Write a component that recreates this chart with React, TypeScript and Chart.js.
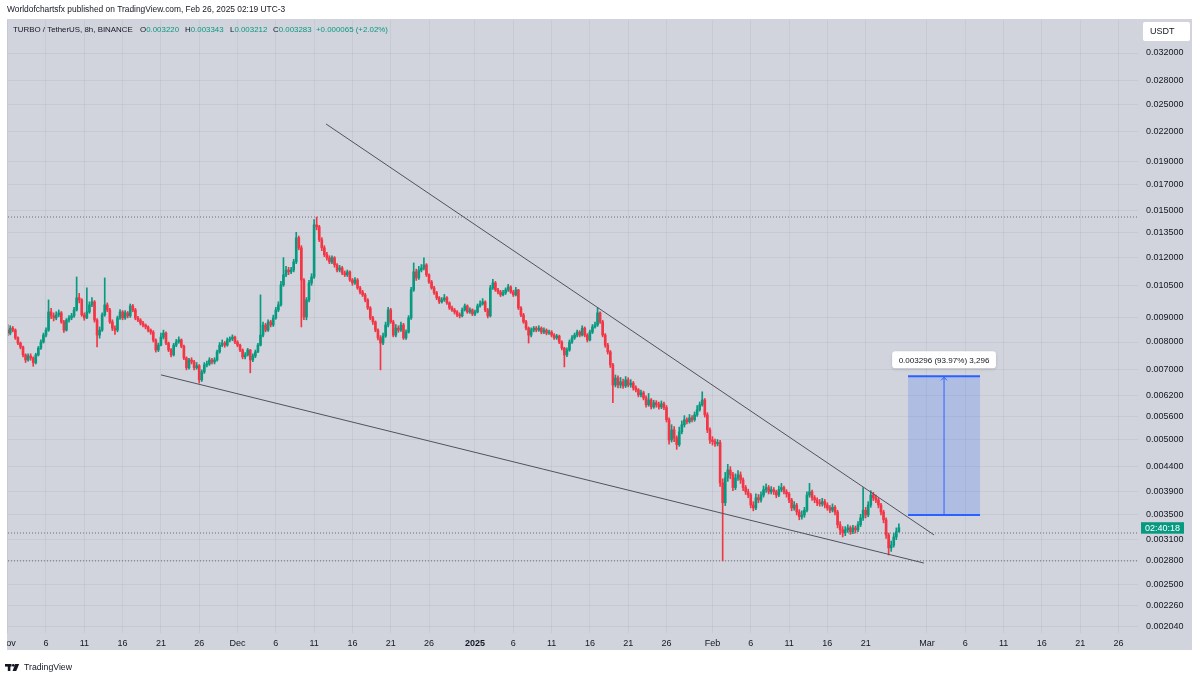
import React, { useEffect, useRef } from "react";
import { Chart, registerables } from "chart.js";

Chart.register(...registerables);

// ---- DATA (prices in millionths of USDT; one candle = 8h, x in days since Nov 1) ----
const FIRST_OPEN = 8470;

const closes = [
  8350, 8550, 8470, 8160, 7960, 7810, 7520, 7340, 7480, 7410, 7240, 7520,
  7770, 8000, 8270, 8470, 9240, 9070, 8980, 9110, 9200, 8810, 8470, 8890,
  8980, 9070, 9330, 9890, 9790, 9110, 8980, 9240, 9560, 9700, 8890, 8270,
  8470, 9110, 9560, 9330, 8810, 8550, 8470, 8980, 9240, 8980, 9200, 9070,
  9510, 9330, 8980, 8890, 8760, 8680, 8600, 8470, 8390, 8080, 7700, 7880,
  8190, 8350, 7960, 7700, 7520, 7880, 8000, 8080, 7840, 7410, 7070, 7340,
  7270, 7070, 7140, 6670, 6930, 7170, 7200, 7340, 7270, 7340, 7630, 7880,
  7960, 7880, 8080, 8120, 8190, 8000, 7880, 7700, 7450, 7520, 7700, 7340,
  7480, 7630, 7880, 8270, 8680, 8470, 8810, 8680, 8980, 9330, 9560, 10520,
  11040, 11300, 11200, 11300, 11750, 13190, 12570, 10770, 9020, 9790, 10620, 10930,
  14030, 13900, 13060, 12570, 12160, 11980, 11750, 11980, 11580, 11300, 11410, 11140,
  11040, 11200, 10770, 10620, 10770, 10370, 10170, 10030, 9790, 9420, 8980, 8810,
  8470, 8160, 7960, 8230, 8680, 9330, 8810, 8270, 8550, 8470, 8680, 8160,
  8390, 8980, 10270, 11200, 10880, 11300, 11410, 11580, 11040, 10670, 10370, 10130,
  9890, 9700, 9790, 9890, 9650, 9420, 9330, 9240, 9110, 9070, 9330, 9510,
  9240, 9330, 9150, 9240, 9510, 9600, 9700, 9330, 9070, 10370, 10620, 10270,
  10170, 10030, 10130, 10270, 10420, 10170, 10030, 10270, 9420, 9110, 8810, 8550,
  8270, 8470, 8550, 8470, 8550, 8390, 8470, 8350, 8390, 8270, 8160, 8230,
  8000, 7770, 7520, 7700, 8000, 8160, 8270, 8390, 8270, 8550, 8270, 8080,
  8390, 8600, 8680, 9200, 8810, 8270, 7880, 7630, 7170, 6510, 6730, 6510,
  6610, 6480, 6670, 6510, 6570, 6420, 6360, 6210, 6270, 6120, 5920, 6060,
  5860, 5980, 5920, 5860, 5950, 5840, 5510, 5000, 5250, 5050, 4890, 5200,
  5380, 5510, 5460, 5560, 5510, 5640, 5780, 5920, 6060, 5640, 5250, 5000,
  4960, 4910, 4940, 4070, 3700, 4170, 4330, 4230, 3980, 4170, 4230, 4130,
  3980, 3900, 3840, 3660, 3610, 3790, 3750, 3840, 3940, 3980, 3900, 3940,
  3900, 3840, 3940, 3980, 3900, 3860, 3750, 3610, 3660, 3540, 3460, 3490,
  3570, 3840, 3900, 3790, 3750, 3700, 3680, 3720, 3660, 3610, 3570, 3620,
  3540, 3330, 3250, 3200, 3250, 3280, 3220, 3280, 3250, 3330, 3440, 3570,
  3490, 3660, 3840, 3790, 3750, 3660, 3540, 3410, 3170, 2980, 3020, 3140,
  3220, 3283,
];

const highs = [
  8700, 8650, 8620, 8520, 8200, 8000, 7850, 7560, 7560, 7560, 7450, 7580,
  7830, 8080, 8350, 8560, 9790, 9400, 9200, 9250, 9330, 9260, 8880, 8950,
  9080, 9180, 9450, 10930, 10100, 9850, 9200, 10370, 9700, 9900, 9760, 8950,
  8600, 9200, 10880, 9650, 9400, 8900, 8650, 9060, 9350, 9300, 9300, 9260,
  9600, 9580, 9400, 9050, 8950, 8830, 8720, 8650, 8520, 8450, 8120, 7960,
  8350, 8470, 8400, 8000, 7750, 7950, 8100, 8200, 8120, 7880, 7450, 7400,
  7420, 7330, 7250, 7180, 7000, 7250, 7300, 7420, 7400, 7420, 7700, 7980,
  8080, 8020, 8160, 8200, 8280, 8230, 8050, 7920, 7740, 7600, 7760, 7720,
  7560, 7700, 7950, 10030, 8800, 8750, 8900, 8880, 9100, 9450, 9700, 10700,
  11990, 11500, 11450, 11450, 11900, 13540, 13300, 12700, 10850, 9900, 10750, 11100,
  14400, 14570, 14000, 13200, 12700, 12300, 12100, 12100, 12050, 11650, 11550, 11500,
  11250, 11300, 11250, 10850, 10900, 10850, 10450, 10250, 10100, 9850, 9480, 9050,
  8850, 8520, 8250, 8350, 8800, 9450, 9400, 8880, 8700, 8650, 8800, 8750,
  8480, 9080, 10400, 11690, 11350, 11500, 11600, 11980, 11650, 11100, 10750, 10450,
  10200, 9950, 9900, 10050, 9950, 9700, 9500, 9400, 9300, 9200, 9420, 9600,
  9560, 9420, 9380, 9320, 9600, 9750, 9850, 9750, 9400, 10500, 10800, 10700,
  10350, 10250, 10250, 10370, 10550, 10480, 10250, 10400, 10300, 9480, 9180, 8880,
  8600, 8560, 8620, 8620, 8650, 8600, 8560, 8520, 8470, 8450, 8330, 8300,
  8270, 8050, 7800, 7780, 8080, 8250, 8350, 8470, 8450, 8650, 8600, 8330,
  8470, 8700, 8800, 9420, 9250, 8880, 8330, 7950, 7680, 7220, 6830, 6800,
  6750, 6700, 6780, 6740, 6680, 6620, 6480, 6400, 6350, 6320, 6180, 6250,
  6100, 6050, 6040, 6000, 6030, 6000, 5900, 5560, 5380, 5330, 5100, 5320,
  5480, 5620, 5560, 5650, 5620, 5720, 5900, 6000, 6300, 6100, 5700, 5300,
  5080, 5020, 5010, 4990, 4150, 4280, 4450, 4400, 4280, 4250, 4320, 4290,
  4170, 4020, 3950, 3870, 3720, 3860, 3850, 3900, 4010, 4050, 4020, 4000,
  3980, 3930, 4010, 4060, 4010, 3940, 3890, 3780, 3720, 3690, 3580, 3560,
  3620, 3900, 4060, 3930, 3830, 3790, 3760, 3780, 3760, 3700, 3650, 3680,
  3650, 3570, 3380, 3300, 3300, 3330, 3310, 3320, 3310, 3380, 3500, 3980,
  3620, 3720, 3920, 3890, 3840, 3780, 3690, 3570, 3440, 3200, 3080, 3200,
  3280, 3343,
];

const lows = [
  8250, 8280, 8400, 8100, 7900, 7740, 7450, 7250, 7300, 7330, 7120, 7200,
  7480, 7720, 7960, 8200, 8420, 8950, 8850, 8900, 9030, 8750, 8380, 8430,
  8800, 8900, 9000, 9280, 9650, 9050, 8880, 8950, 9180, 9480, 8800, 7810,
  8150, 8420, 9050, 9250, 8750, 8450, 8300, 8400, 8920, 8900, 8920, 8980,
  9000, 9250, 8900, 8820, 8680, 8600, 8520, 8400, 8300, 8000, 7620, 7640,
  7850, 8120, 7900, 7640, 7450, 7480, 7820, 7950, 7780, 7350, 7000, 7020,
  7200, 7000, 7020, 6570, 6620, 6880, 7100, 7150, 7200, 7200, 7300, 7580,
  7820, 7800, 7840, 8000, 8050, 7940, 7820, 7640, 7380, 7380, 7480, 6900,
  7280, 7420, 7600, 7850, 8200, 8400, 8420, 8600, 8620, 8920, 9250, 9500,
  10450, 10950, 11050, 11100, 11200, 11650, 12450, 8600, 8900, 8900, 9700, 10500,
  10850, 13700, 12950, 12400, 12050, 11850, 11650, 11650, 11450, 11200, 11200, 11050,
  10950, 10950, 10700, 10500, 10550, 10300, 10080, 9950, 9700, 9350, 8900, 8700,
  8400, 8080, 7000, 7900, 8180, 8600, 8750, 8200, 8200, 8380, 8420, 8100,
  8100, 8350, 8920, 10200, 10750, 10800, 11200, 11300, 10950, 10600, 10300, 10050,
  9800, 9620, 9640, 9720, 9580, 9350, 9260, 9150, 9030, 8980, 9020, 9280,
  9180, 9180, 9080, 9080, 9200, 9450, 9550, 9250, 8980, 9020, 10300, 10200,
  10080, 9950, 9980, 10050, 10200, 10100, 9950, 9980, 9350, 9030, 8750, 8480,
  7960, 8200, 8400, 8400, 8420, 8320, 8330, 8280, 8300, 8200, 8100, 8100,
  7940, 7700, 7100, 7460, 7650, 7950, 8100, 8200, 8200, 8230, 8200, 8000,
  8040, 8330, 8550, 8620, 8750, 8200, 7800, 7550, 7080, 5980, 6450, 6420,
  6420, 6400, 6430, 6450, 6440, 6350, 6300, 6150, 6150, 6060, 5850, 5880,
  5800, 5820, 5850, 5800, 5810, 5780, 5450, 4900, 4950, 4960, 4780, 4850,
  5150, 5320, 5400, 5420, 5450, 5470, 5600, 5740, 5880, 5580, 5180, 4920,
  4880, 4850, 4860, 4000, 2800, 3650, 4100, 4150, 3920, 3940, 4120, 4060,
  3920, 3850, 3790, 3610, 3560, 3580, 3700, 3710, 3800, 3890, 3860, 3860,
  3850, 3790, 3810, 3900, 3860, 3800, 3700, 3560, 3570, 3490, 3410, 3420,
  3450, 3540, 3800, 3740, 3700, 3650, 3640, 3640, 3610, 3570, 3530, 3540,
  3490, 3280, 3180, 3140, 3160, 3210, 3180, 3190, 3200, 3220, 3300, 3400,
  3440, 3460, 3620, 3740, 3700, 3610, 3490, 3360, 3120, 2880, 2930, 2990,
  3100, 3212,
];

const PRICE_UNIT = 1e-6;
const CANDLES_PER_DAY = 3;

const xTickDays = [0, 5, 10, 15, 20, 25, 30, 35, 40, 45, 50, 55, 61, 66, 71, 76, 81, 86, 92, 97, 102, 107, 112, 120, 125, 130, 135, 140, 145];
const xTickLabels = ["Nov", "6", "11", "16", "21", "26", "Dec", "6", "11", "16", "21", "26", "2025", "6", "11", "16", "21", "26", "Feb", "6", "11", "16", "21", "Mar", "6", "11", "16", "21", "26"];

const yTicks = [0.032, 0.028, 0.025, 0.022, 0.019, 0.017, 0.015, 0.0135, 0.012, 0.0105, 0.009, 0.008, 0.007, 0.0062, 0.0056, 0.005, 0.0044, 0.0039, 0.0035, 0.0031, 0.0028, 0.0025, 0.00226, 0.00204];

const X_MIN = 0.04;
const X_MAX = 147.55;
const Y_MIN = 0.001981;
const Y_MAX = 0.03749;

const upperTrend = [{ x: 41.55, y: 0.02277 }, { x: 120.93, y: 0.003171 }];
const lowerTrend = [{ x: 20.01, y: 0.006833 }, { x: 119.6, y: 0.002771 }];
const levelLines = [0.01457, 0.0032, 0.0028];
const measureX = [117.53, 126.93];
const measureY = [0.00349, 0.006786];
const measureText = "0.003296 (93.97%) 3,296";

const titleText = "Worldofchartsfx published on TradingView.com, Feb 26, 2025 02:19 UTC-3";
const symbolText = "TURBO / TetherUS, 8h, BINANCE";
const ohlcText = [
  ["O", "0.003220"],
  ["H", "0.003343"],
  ["L", "0.003212"],
  ["C", "0.003283"],
];
const changeText = "+0.000065 (+2.02%)";
const countdownText = "02:40:18";

// ---- STYLE ----
const UP = "#089981";
const DOWN = "#f23645";
const PANE = "#d1d4dc";
const GRID = "rgba(42,46,57,0.06)";
const TEXT = "#131722";
const TREND = "#50535e";
const BLUE = "#2962ff";
const FONT = "'Liberation Sans', Arial, sans-serif";

function roundRect(ctx: CanvasRenderingContext2D, x: number, y: number, w: number, h: number, r: number) {
  ctx.beginPath();
  ctx.moveTo(x + r, y);
  ctx.lineTo(x + w - r, y);
  ctx.quadraticCurveTo(x + w, y, x + w, y + r);
  ctx.lineTo(x + w, y + h - r);
  ctx.quadraticCurveTo(x + w, y + h, x + w - r, y + h);
  ctx.lineTo(x + r, y + h);
  ctx.quadraticCurveTo(x, y + h, x, y + h - r);
  ctx.lineTo(x, y + r);
  ctx.quadraticCurveTo(x, y, x + r, y);
  ctx.closePath();
}

function fitSize(ctx: CanvasRenderingContext2D, text: string, width: number, weight = "normal") {
  ctx.font = `${weight} 10px ${FONT}`;
  return (10 * width) / ctx.measureText(text).width;
}

const decorPlugin = {
  id: "decor",
  beforeDraw(chart: any) {
    const ctx = chart.ctx as CanvasRenderingContext2D;
    ctx.save();
    ctx.fillStyle = "#ffffff";
    ctx.fillRect(0, 0, chart.width, chart.height);
    ctx.fillStyle = PANE;
    ctx.fillRect(7, 19, 1185, 631);
    ctx.restore();
  },
  afterDraw(chart: any) {
    const ctx = chart.ctx as CanvasRenderingContext2D;
    const xs = chart.scales.x;
    const ys = chart.scales.y;
    ctx.save();
    // clip the partly hidden first date label at the pane edge
    ctx.fillStyle = "#ffffff";
    ctx.fillRect(0, 630, 7, 22);

    // title
    ctx.textBaseline = "middle";
    ctx.textAlign = "left";
    const ts = fitSize(ctx, titleText, 279);
    ctx.font = `${ts}px ${FONT}`;
    ctx.fillStyle = TEXT;
    ctx.fillText(titleText, 7, 9.5);

    // symbol header
    const hs = fitSize(ctx, symbolText, 120);
    ctx.font = `${hs}px ${FONT}`;
    ctx.fillStyle = TEXT;
    ctx.fillText(symbolText, 13, 29.5);
    const groupX = [140, 185, 230, 273];
    ohlcText.forEach(([k, v], i) => {
      ctx.fillStyle = TEXT;
      ctx.fillText(k, groupX[i], 29.5);
      const kw = ctx.measureText(k).width;
      ctx.fillStyle = UP;
      ctx.fillText(v, groupX[i] + kw, 29.5);
    });
    ctx.fillStyle = UP;
    ctx.fillText(changeText, 316, 29.5);

    // USDT box
    ctx.fillStyle = "#ffffff";
    roundRect(ctx, 1143, 22, 47, 19, 2);
    ctx.fill();
    ctx.fillStyle = TEXT;
    ctx.font = `9px ${FONT}`;
    ctx.fillText("USDT", 1150, 31.5);

    // countdown label at last price
    const lastClose = closes[closes.length - 1] * PRICE_UNIT;
    const ly = ys.getPixelForValue(lastClose);
    ctx.fillStyle = UP;
    ctx.fillRect(1141, ly - 5.5, 43, 11.5);
    ctx.fillStyle = "#ffffff";
    ctx.font = `9px ${FONT}`;
    ctx.textAlign = "center";
    ctx.fillText(countdownText, 1162.5, ly + 0.5);

    // measure label + arrow head
    const ax = xs.getPixelForValue((measureX[0] + measureX[1]) / 2);
    const topY = ys.getPixelForValue(measureY[1]);
    ctx.strokeStyle = BLUE;
    ctx.lineWidth = 1;
    ctx.beginPath();
    ctx.moveTo(ax - 3, topY + 4);
    ctx.lineTo(ax, topY + 1);
    ctx.lineTo(ax + 3, topY + 4);
    ctx.stroke();

    const ms = fitSize(ctx, measureText, 91);
    ctx.font = `${ms}px ${FONT}`;
    const bw = ctx.measureText(measureText).width + 13;
    ctx.shadowColor = "rgba(0,0,0,0.15)";
    ctx.shadowBlur = 3;
    ctx.shadowOffsetY = 1;
    ctx.fillStyle = "#ffffff";
    roundRect(ctx, ax - bw / 2, topY - 25, bw, 17, 3);
    ctx.fill();
    ctx.shadowColor = "transparent";
    ctx.fillStyle = TEXT;
    ctx.textAlign = "center";
    ctx.fillText(measureText, ax, topY - 16);

    // footer logo + text
    ctx.fillStyle = TEXT;
    ctx.fillRect(5, 664, 6.5, 2.6);
    ctx.fillRect(7.8, 664, 2.6, 7);
    ctx.beginPath();
    ctx.arc(13.3, 665.3, 1.4, 0, Math.PI * 2);
    ctx.fill();
    ctx.beginPath();
    ctx.moveTo(15.2, 664);
    ctx.lineTo(19.2, 664);
    ctx.lineTo(16.2, 671);
    ctx.lineTo(12.6, 671);
    ctx.closePath();
    ctx.fill();
    ctx.textAlign = "left";
    const fs = fitSize(ctx, "TradingView", 48);
    ctx.font = `${fs}px ${FONT}`;
    ctx.fillText("TradingView", 24, 667.5);
    ctx.restore();
  },
};

export default function App() {
  const ref = useRef<HTMLCanvasElement | null>(null);

  useEffect(() => {
    const canvas = ref.current;
    if (!canvas) return;

    const opens = closes.map((c, i) => (i === 0 ? FIRST_OPEN : closes[i - 1]));
    const xs = closes.map((_, i) => i / CANDLES_PER_DAY);
    const colors = closes.map((c, i) => (c >= opens[i] ? UP : DOWN));
    const mx = (measureX[0] + measureX[1]) / 2;

    const lineBase = {
      type: "line" as const,
      pointRadius: 0,
      borderWidth: 1,
      fill: false,
      tension: 0,
    };

    const datasets: any[] = [
      { ...lineBase, label: "upper", data: upperTrend, borderColor: TREND, order: 0 },
      { ...lineBase, label: "lower", data: lowerTrend, borderColor: TREND, order: 0 },
      {
        ...lineBase,
        label: "arrow",
        data: [{ x: mx, y: measureY[0] }, { x: mx, y: measureY[1] }],
        borderColor: BLUE,
        order: 0,
      },
      {
        type: "bar",
        label: "bodies",
        data: xs.map((x, i) => ({ x, y: [opens[i] * PRICE_UNIT, closes[i] * PRICE_UNIT] })),
        backgroundColor: colors,
        barThickness: 2,
        minBarLength: 1,
        grouped: false,
        order: 1,
      },
      {
        type: "bar",
        label: "wicks",
        data: xs.map((x, i) => ({ x, y: [lows[i] * PRICE_UNIT, highs[i] * PRICE_UNIT] })),
        backgroundColor: colors,
        barThickness: 1,
        grouped: false,
        order: 2,
      },
      {
        ...lineBase,
        label: "measureTop",
        data: [{ x: measureX[0], y: measureY[1] }, { x: measureX[1], y: measureY[1] }],
        borderColor: BLUE,
        borderWidth: 2,
        fill: { value: measureY[0] },
        backgroundColor: "rgba(41,98,255,0.2)",
        order: 3,
      },
      {
        ...lineBase,
        label: "measureBottom",
        data: [{ x: measureX[0], y: measureY[0] }, { x: measureX[1], y: measureY[0] }],
        borderColor: BLUE,
        borderWidth: 2,
        order: 3,
      },
      ...levelLines.map((v) => ({
        ...lineBase,
        label: "level",
        data: [{ x: X_MIN, y: v }, { x: X_MAX, y: v }],
        borderColor: "#6a6d78",
        borderDash: [1, 2],
        order: 4,
      })),
    ];

    const chart = new Chart(canvas, {
      type: "bar",
      data: { datasets },
      options: {
        responsive: false,
        maintainAspectRatio: false,
        devicePixelRatio: 1,
        animation: false,
        events: [],
        layout: { padding: { left: 8, top: 20, right: 8, bottom: 30 } },
        plugins: {
          legend: { display: false },
          tooltip: { enabled: false },
        },
        scales: {
          x: {
            type: "linear",
            min: X_MIN,
            max: X_MAX,
            offset: false,
            afterBuildTicks: (s: any) => {
              s.ticks = xTickDays.map((v) => ({ value: v }));
            },
            afterFit: (s: any) => {
              s.height = 17;
              s.paddingLeft = 0;
              s.paddingRight = 0;
            },
            grid: { color: GRID, drawTicks: false, offset: false },
            border: { display: false },
            ticks: {
              autoSkip: false,
              maxRotation: 0,
              padding: 5,
              color: TEXT,
              font: (c: any) => ({
                family: FONT,
                size: 9,
                weight: xTickLabels[c.index] === "2025" ? "bold" : "normal",
              }),
              callback: (_v: any, i: number) => xTickLabels[i],
            },
          },
          y: {
            type: "logarithmic",
            position: "right",
            min: Y_MIN,
            max: Y_MAX,
            afterBuildTicks: (s: any) => {
              s.ticks = yTicks.map((v) => ({ value: v }));
            },
            afterFit: (s: any) => {
              s.width = 54;
              s.paddingTop = 0;
              s.paddingBottom = 0;
            },
            grid: { color: GRID, drawTicks: false },
            border: { display: false },
            ticks: {
              autoSkip: false,
              padding: 8,
              color: TEXT,
              font: { family: FONT, size: 9 },
              callback: (v: any) => Number(v).toFixed(6),
            },
          },
        },
      } as any,
      plugins: [decorPlugin],
    });

    return () => chart.destroy();
  }, []);

  return (
    <div style={{ position: "fixed", left: 0, top: 0, width: 1200, height: 680, background: "#ffffff" }}>
      <canvas ref={ref} width={1200} height={680} style={{ display: "block", width: 1200, height: 680 }} />
    </div>
  );
}
